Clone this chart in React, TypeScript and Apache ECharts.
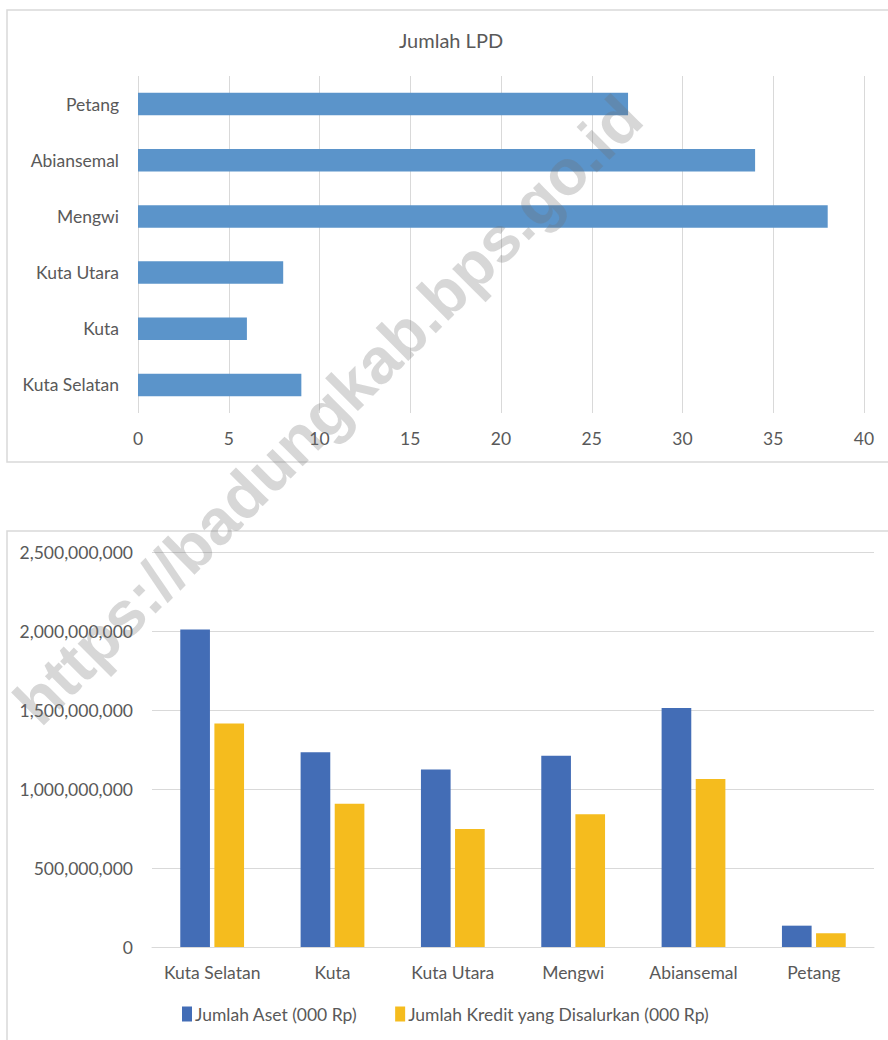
import React, { useEffect, useRef } from "react";
import * as echarts from "echarts";

const lpdCategories = ["Kuta Selatan", "Kuta", "Kuta Utara", "Mengwi", "Abiansemal", "Petang"];
const lpdCounts = [9, 6, 8, 38, 34, 27];
const lpdTicks = [0, 40, 5];

const kecamatan = ["Kuta Selatan", "Kuta", "Kuta Utara", "Mengwi", "Abiansemal", "Petang"];
const jumlahAset = [2010000000, 1233000000, 1124000000, 1211000000, 1513000000, 135000000];
const jumlahKredit = [1415000000, 907000000, 747000000, 840000000, 1063000000, 87000000];
const asetName = "Jumlah Aset (000 Rp)";
const kreditName = "Jumlah Kredit yang Disalurkan (000 Rp)";

const FONT = "Lato";
const LABEL = "#595959";
const GRID = "#d9d9d9";
const FS = 17.5;

export default function App() {
  const ref = useRef<HTMLDivElement>(null);
  useEffect(() => {
    if (!ref.current) return;
    const chart = echarts.init(ref.current, null, { renderer: "svg" });
    const fmt = (v: number) => v.toLocaleString("en-US");
    chart.setOption({
      animation: false,
      backgroundColor: "#ffffff",
      textStyle: { fontFamily: FONT },
      grid: [
        { left: 138, right: 24, top: 76, height: 337, containLabel: false },
        { left: 152, right: 14, top: 552, height: 395, containLabel: false },
      ],
      xAxis: [
        {
          gridIndex: 0,
          type: "value",
          min: lpdTicks[0],
          max: lpdTicks[1],
          interval: lpdTicks[2],
          axisLine: { show: false },
          axisTick: { show: false },
          splitLine: { show: true, lineStyle: { color: GRID, width: 1 } },
          axisLabel: { color: LABEL, fontSize: FS, margin: 16, fontFamily: FONT },
        },
        {
          gridIndex: 1,
          type: "category",
          data: kecamatan,
          axisLine: { show: true, lineStyle: { color: GRID, width: 1 } },
          axisTick: { show: false },
          axisLabel: { color: LABEL, fontSize: FS, margin: 16, fontFamily: FONT, interval: 0 },
        },
      ],
      yAxis: [
        {
          gridIndex: 0,
          type: "category",
          data: lpdCategories,
          axisLine: { show: false },
          axisTick: { show: false },
          axisLabel: { color: LABEL, fontSize: FS, margin: 19, fontFamily: FONT, interval: 0 },
        },
        {
          gridIndex: 1,
          type: "value",
          min: 0,
          max: 2500000000,
          interval: 500000000,
          axisLine: { show: false },
          axisTick: { show: false },
          splitLine: { show: true, lineStyle: { color: GRID, width: 1 } },
          axisLabel: { color: LABEL, fontSize: FS, margin: 19, fontFamily: FONT, formatter: fmt },
        },
      ],
      legend: {
        bottom: 12,
        left: 177,
        data: [asetName, kreditName],
        itemWidth: 10,
        itemHeight: 15,
        itemGap: 38,
        icon: "rect",
        textStyle: { color: LABEL, fontSize: FS, fontFamily: FONT, padding: [0, 0, 0, -2] },
      },
      series: [
        {
          type: "bar",
          xAxisIndex: 0,
          yAxisIndex: 0,
          data: lpdCounts,
          barCategoryGap: "60%",
          itemStyle: { color: "#5B94CA" },
        },
        {
          name: asetName,
          type: "bar",
          xAxisIndex: 1,
          yAxisIndex: 1,
          data: jumlahAset,
          barCategoryGap: "47%",
          barGap: "15%",
          itemStyle: { color: "#436DB6" },
        },
        {
          name: kreditName,
          type: "bar",
          xAxisIndex: 1,
          yAxisIndex: 1,
          data: jumlahKredit,
          barCategoryGap: "47%",
          barGap: "15%",
          itemStyle: { color: "#F5BC1E" },
        },
      ],
      graphic: [
        {
          type: "rect",
          z: -1,
          silent: true,
          shape: { x: 7, y: 10, width: 900, height: 452 },
          style: { fill: "none", stroke: GRID, lineWidth: 1.5 },
        },
        {
          type: "rect",
          z: -1,
          silent: true,
          shape: { x: 7, y: 531, width: 900, height: 540 },
          style: { fill: "none", stroke: GRID, lineWidth: 1.5 },
        },
        {
          type: "text",
          x: 451,
          y: 40,
          style: {
            text: "Jumlah LPD",
            fill: LABEL,
            font: `20px ${FONT}`,
            textAlign: "center",
            textVerticalAlign: "middle",
          },
        },
        {
          type: "text",
          x: 328,
          y: 410,
          rotation: Math.PI / 4,
          z: 100,
          silent: true,
          style: {
            text: "https://badungkab.bps.go.id",
            fill: "rgba(110,110,110,0.28)",
            font: `bold 64px "Liberation Sans"`,
            textAlign: "center",
            textVerticalAlign: "middle",
          },
        },
      ],
    });
    return () => chart.dispose();
  }, []);
  return (
    <div
      ref={ref}
      style={{ position: "fixed", left: 0, top: 0, width: 888, height: 1040 }}
    />
  );
}
